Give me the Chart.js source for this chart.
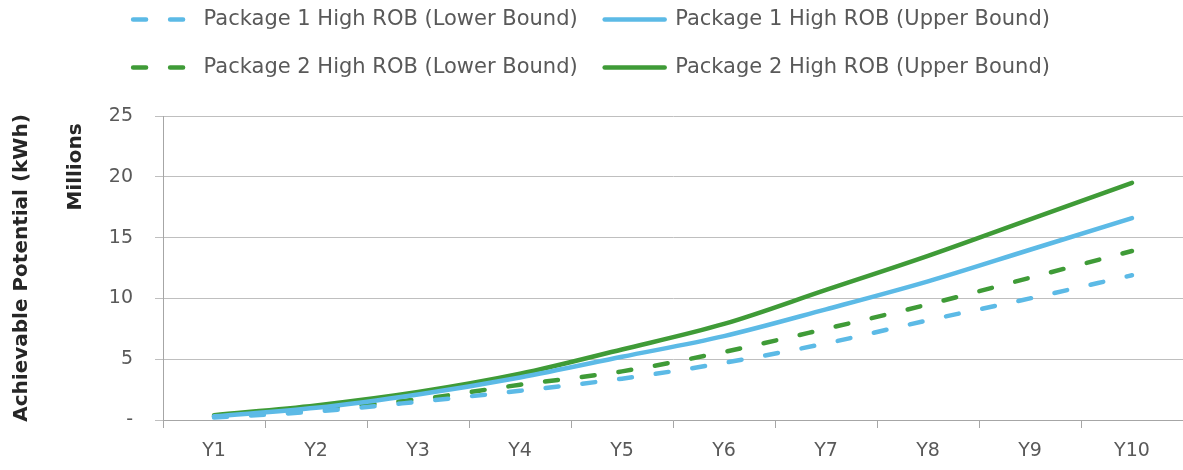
<!DOCTYPE html>
<html>
<head>
<meta charset="utf-8">
<script src="https://cdn.jsdelivr.net/npm/chart.js@4/dist/chart.umd.min.js"></script>
<style>
  html, body { margin: 0; padding: 0; background: #fff; overflow: hidden; }
</style>
</head>
<body>
<canvas id="chart_potential" width="1183" height="470"></canvas>
<script>
const years = ['Y1','Y2','Y3','Y4','Y5','Y6','Y7','Y8','Y9','Y10'];
const p1Lower = [0.2, 0.7, 1.5, 2.4, 3.4, 4.7, 6.3, 8.2, 10.0, 11.9];
const p1Upper = [0.3, 1.0, 2.1, 3.5, 5.2, 6.9, 9.1, 11.4, 14.0, 16.6];
const p2Lower = [0.3, 0.9, 1.7, 2.9, 4.0, 5.6, 7.5, 9.5, 11.7, 13.9];
const p2Upper = [0.4, 1.2, 2.3, 3.8, 5.8, 7.9, 10.7, 13.5, 16.5, 19.5];
const yTicks = [0, 5, 10, 15, 20, 25];

const blue = '#5cbae6';
const green = '#3f9b37';
const textGray = '#595959';
const titleGray = '#262626';
const font = 'DejaVu Sans';
const dash = [13, 24];

// second y caption ("Millions") drawn beside the axis title
const millionsLabel = {
  id: 'millionsLabel',
  afterDraw(chart) {
    const ctx = chart.ctx;
    ctx.save();
    ctx.translate(76, 167);
    ctx.rotate(-Math.PI / 2);
    ctx.font = 'bold 20px ' + font;
    ctx.fillStyle = titleGray;
    ctx.textAlign = 'center';
    ctx.textBaseline = 'middle';
    ctx.fillText('Millions', 0, 0);
    ctx.restore();
  }
};

// extra space between legend and plot
const legendGap = {
  id: 'legendGap',
  beforeInit(chart) {
    const fit = chart.legend.fit;
    chart.legend.fit = function() {
      fit.call(this);
      this.height += 28;
    };
  }
};

const line = (label, data, color, dashed) => ({
  label: label,
  data: data,
  borderColor: color,
  backgroundColor: color,
  borderWidth: 4.5,
  borderDash: dashed ? dash : [],
  borderCapStyle: 'round',
  pointRadius: 0,
  pointHoverRadius: 0,
  cubicInterpolationMode: 'monotone',
  fill: false
});

const chartEl = document.getElementById('chart_potential');
const potentialChart = new Chart(chartEl, {
  type: 'line',
  data: {
    labels: years,
    datasets: [
      line('Package 1 High ROB (Lower Bound)', p1Lower, blue, true),
      line('Package 1 High ROB (Upper Bound)', p1Upper, blue, false),
      line('Package 2 High ROB (Lower Bound)', p2Lower, green, true),
      line('Package 2 High ROB (Upper Bound)', p2Upper, green, false)
    ]
  },
  plugins: [millionsLabel, legendGap],
  options: {
    responsive: false,
    animation: false,
    layout: {
      padding: {top: -18, left: 0, right: 0, bottom: 0}
    },
    plugins: {
      legend: {
        position: 'top',
        labels: {
          usePointStyle: true,
          pointStyle: 'line',
          pointStyleWidth: 60,
          padding: 27,
          color: textGray,
          font: {family: font, size: 21},
          generateLabels(chart) {
            const items = Chart.defaults.plugins.legend.labels.generateLabels(chart);
            items.forEach((item, i) => {
              item.lineDash = chart.data.datasets[i].borderDash;
              item.lineCap = 'round';
            });
            return items;
          }
        }
      },
      tooltip: {enabled: false}
    },
    scales: {
      x: {
        offset: true,
        afterFit(scale) {
          scale.height = 50;
        },
        grid: {
          offset: true,
          drawOnChartArea: false,
          drawTicks: true,
          tickLength: 8,
          color: '#a6a6a6'
        },
        border: {color: '#a6a6a6'},
        ticks: {
          color: textGray,
          padding: 12,
          font: {family: font, size: 19}
        }
      },
      y: {
        min: 0,
        max: 25,
        afterBuildTicks(scale) {
          scale.ticks = yTicks.map(v => ({value: v}));
        },
        afterFit(scale) {
          scale.width = 163;
        },
        grid: {
          color: '#bfbfbf',
          tickLength: 8
        },
        border: {color: '#a6a6a6'},
        ticks: {
          color: textGray,
          padding: 22,
          font: {family: font, size: 19},
          callback: v => (v === 0 ? '-' : v)
        },
        title: {
          display: true,
          text: 'Achievable Potential (kWh)',
          color: titleGray,
          padding: {top: 10, bottom: 0},
          font: {family: font, size: 20, weight: 'bold'}
        }
      }
    }
  }
});
</script>
</body>
</html>
